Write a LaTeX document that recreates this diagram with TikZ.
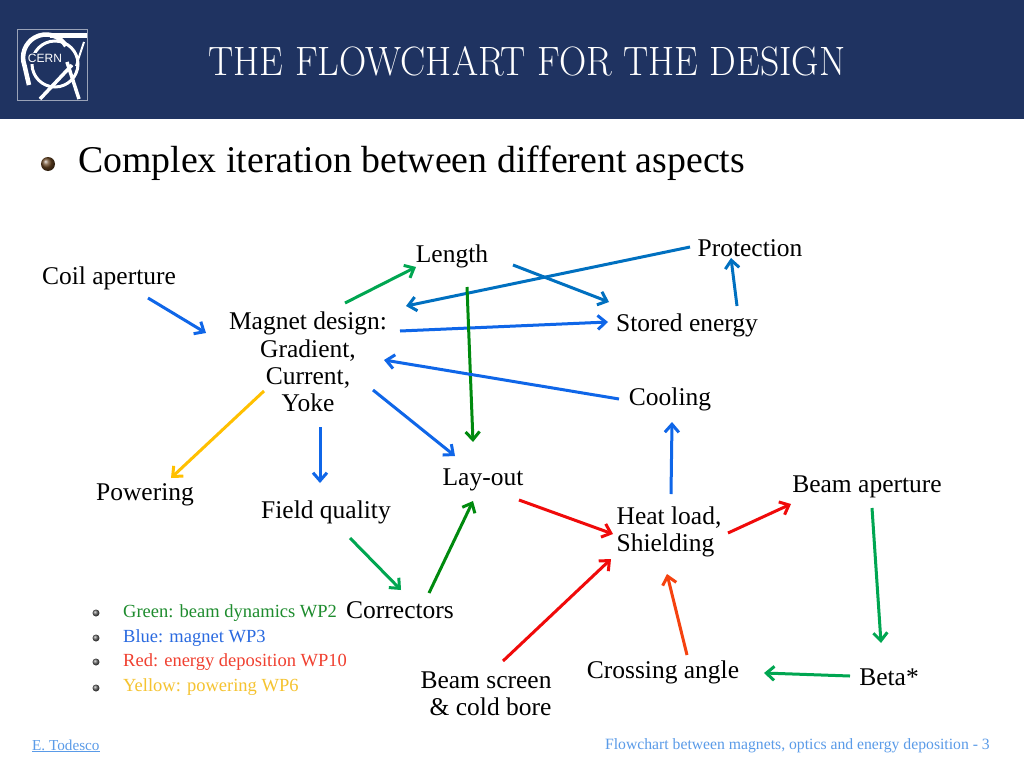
\documentclass[tikz,border=0pt]{standalone}
\usepackage{fontspec}
\usepackage{xcolor}
\usepackage{graphicx}
\usetikzlibrary{arrows.meta,calc}
\newfontfamily\palfont{Liberation Serif}
\newfontfamily\logofont{Liberation Sans}
\definecolor{hdr}{HTML}{1F3361}
\definecolor{cblue}{HTML}{0F66E8}
\definecolor{dblue}{HTML}{0070C0}
\definecolor{cgreen}{HTML}{00A651}
\definecolor{dgreen}{HTML}{008A0E}
\definecolor{cred}{HTML}{F00A0A}
\definecolor{cora}{HTML}{F5420F}
\definecolor{cyel}{HTML}{FFC000}
\definecolor{lgreen}{HTML}{1E8C2E}
\definecolor{lblue}{HTML}{2A6AE0}
\definecolor{lred}{HTML}{F04030}
\definecolor{lyel}{HTML}{F5C330}
\definecolor{foot}{HTML}{5A9BE8}
\tikzset{
  lab/.style={inner sep=0pt,font=\palfont\fontsize{25.5}{27.3}\selectfont,text=black,text height=17pt,text depth=1pt},
  labm/.style={inner sep=0pt,font=\palfont\fontsize{25.5}{27.3}\selectfont,text=black},
  leg/.style={inner sep=0pt,anchor=base west,font=\palfont\fontsize{18.5}{20}\selectfont},
  arr/.style={line width=3pt,-{Straight Barb[length=8pt,width=14pt,line width=3pt]}},
  ring/.style={draw=white,line width=3pt}
}
\newcommand{\conn}[5]{\draw[arr,#1] ([shift={(#3)}]#2.center) -- ([shift={(#5)}]#4.center);}
\begin{document}
\begin{tikzpicture}[x=1pt,y=-1pt]
\useasboundingbox (0,0) rectangle (1024,768);
\fill[white] (0,0) rectangle (1024,768);
\fill[hdr] (0,0) rectangle (1024,119);
% logo
\draw[draw=white!55!hdr,line width=0.8pt] (17,29) rectangle (87,100);
\draw[ring] (55,64) circle[radius=23];
\draw[ring,line width=4.5pt] (66,46) arc[start angle=-30,end angle=-200,radius=23] -- (29,85);
\draw[ring,line width=5pt] (50,36) -- (87,36);
\draw[ring,line width=3.5pt] (40,99) -- (72,65);
\draw[ring,line width=3.5pt] (79,99) -- (67,62);
\draw[ring,line width=2pt] (84,42) -- (76,66);
\node[inner sep=1pt,text=white,fill=hdr,font=\logofont\fontsize{12}{12}\selectfont] (cern) at (45,58.5) {CERN};
% title
\node[inner sep=0pt,anchor=base,text=white,font=\fontsize{41}{41}\selectfont] (title) at (527,75) {\scalebox{0.92}[1]{THE FLOWCHART FOR THE DESIGN}};
% heading
\shade[ball color=brown!55!black] (48,164) circle[radius=7];
\node[inner sep=0pt,anchor=base west,font=\palfont\fontsize{37.8}{40}\selectfont] (head) at (78,172) {Complex iteration between different aspects};
% labels
\node[lab] (coil) at (109,276) {Coil aperture};
\node[labm,align=center] (magnet) at (308,362) {Magnet design:\\Gradient,\\Current,\\Yoke};
\node[lab] (length) at (452,254) {Length};
\node[lab] (prot) at (750,248) {Protection};
\node[lab] (stored) at (687,323) {Stored energy};
\node[lab] (cooling) at (670,397) {Cooling};
\node[lab] (layout) at (483,477) {Lay-out};
\node[lab] (power) at (145,492) {Powering};
\node[lab] (field) at (326,510) {Field quality};
\node[lab] (beamap) at (867,484) {Beam aperture};
\node[labm,align=left] (heat) at (669,532) {Heat load,\\Shielding};
\node[lab] (corr) at (400,610) {Correctors};
\node[labm,align=right] (screen) at (486,694) {Beam screen\\\& cold bore};
\node[lab] (cross) at (663,670) {Crossing angle};
\node[lab] (beta) at (889,677) {Beta*};
% connectors
\conn{cblue}{coil}{39,22}{magnet}{-102,-29}
\conn{cgreen}{magnet}{37,-59}{length}{-36,13}
\conn{dblue}{prot}{-60,-1}{magnet}{98,-56}
\conn{dblue}{length}{61,11}{stored}{-78,-21}
\conn{cblue}{magnet}{92,-31}{stored}{-79,-1}
\conn{dblue}{stored}{50,-17}{prot}{-19,10}
\conn{dgreen}{length}{15,33}{layout}{-10,-35}
\conn{cblue}{cooling}{-51,2}{magnet}{76,-2}
\conn{cblue}{magnet}{65,28}{layout}{-28,-21}
\conn{cyel}{magnet}{-44,29}{power}{26,-14}
\conn{cblue}{magnet}{12,65}{field}{-6,-27}
\conn{cgreen}{field}{24,28}{corr}{1,-20}
\conn{dgreen}{corr}{29,-17}{layout}{-10,24}
\conn{cred}{layout}{36,23}{heat}{-56,2}
\conn{cred}{screen}{17,-33}{heat}{-58,27}
\conn{cora}{cross}{24,-15}{heat}{-2,42}
\conn{cblue}{heat}{2,-38}{cooling}{2,25}
\conn{cred}{heat}{59,1}{beamap}{-76,20}
\conn{cgreen}{beamap}{5,24}{beta}{-8,-34}
\conn{cgreen}{beta}{-39,-1}{cross}{101,3}
% legend
\shade[ball color=gray!80!black] (96,613) circle[radius=3.5];
\shade[ball color=gray!80!black] (96,638) circle[radius=3.5];
\shade[ball color=gray!80!black] (96,662) circle[radius=3.5];
\shade[ball color=gray!80!black] (96,688) circle[radius=3.5];
\node[leg,text=lgreen] (l1) at (123,617.5) {Green: beam dynamics WP2};
\node[leg,text=lblue] (l2) at (123,642.5) {Blue: magnet WP3};
\node[leg,text=lred] (l3) at (123,666.5) {Red: energy deposition WP10};
\node[leg,text=lyel] (l4) at (123,691.5) {Yellow: powering WP6};
% footer
\node[inner sep=0pt,anchor=base west,text=foot,font=\palfont\fontsize{15.2}{16}\selectfont] (auth) at (32,750) {\underline{E. Todesco}};
\node[inner sep=0pt,anchor=base east,text=foot,font=\palfont\fontsize{15.7}{16}\selectfont] (ftr) at (990,749) {Flowchart between magnets, optics and energy deposition - 3};
\end{tikzpicture}
\end{document}
